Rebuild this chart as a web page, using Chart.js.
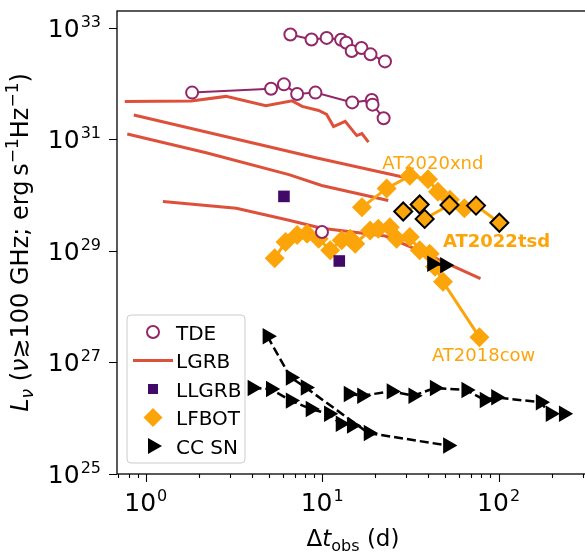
<!DOCTYPE html>
<html>
<head>
<meta charset="utf-8">
<script src="https://cdn.jsdelivr.net/npm/chart.js@4/dist/chart.umd.min.js"></script>
<style>
  html, body { margin: 0; padding: 0; background: #fff; overflow: hidden; }
  #wrap { width: 600px; height: 554px; }
</style>
</head>
<body>
<div id="wrap"><canvas id="myChart" width="600" height="554"></canvas></div>
<script>
// light curves, [days since explosion, L_nu in erg/s/Hz]
var tdeUpper = [[6.6, 7.6e32], [8.7, 6.2e32], [10.6, 6.6e32], [12.8, 6.1e32], [13.7, 5.4e32],
                [14.7, 3.85e32], [16.7, 4.35e32], [18.8, 3.35e32], [22.7, 2.5e32]];
var tdeLower = [[1.83, 6.9e31], [5.13, 8.1e31], [6.07, 9.7e31], [7.21, 6.5e31], [9.16, 6.9e31],
                [14.8, 4.6e31], [19.1, 5.1e31], [19.3, 4.2e31], [22.3, 2.4e31]];
var tdeSingle = [[9.97, 2.18e29]];

var lgrbA = [[0.76, 4.8e31], [1.81, 4.9e31], [2.85, 5.9e31], [4.79, 4.0e31], [6.76, 4.9e31],
             [7.7, 3.9e31], [9.55, 3.3e31], [10.6, 2.8e31], [11.6, 1.7e31], [13.5, 2.1e31],
             [15.7, 1.17e31], [16.8, 1.27e31], [18.3, 8.9e30]];
var lgrbB = [[0.855, 2.73e31], [4.0, 8.7e30], [9.2, 4.7e30], [29.5, 2.07e30]];
var lgrbC = [[0.785, 1.25e31], [2.2, 5.75e30], [6.48, 2.34e30], [9.94, 1.49e30], [23.7, 8.0e29]];
var lgrbD = [[1.25, 7.7e29], [3.26, 5.8e29], [6.48, 3.56e29], [9.94, 2.56e29], [22.8, 1.85e29],
             [33.6, 1.09e29], [79, 3.2e28]];

var llgrb = [[6.07, 9.5e29], [12.5, 6.6e28]];

var at2020xnd = [[16.8, 6.05e29], [23.2, 1.32e30], [31.4, 2.22e30], [39.8, 1.93e30], [45.3, 1.15e30],
                 [53, 8.3e29], [64, 5.8e29]];
var at2022tsd = [[28.8, 5.1e29], [35.7, 6.8e29], [38.1, 3.75e29], [52.7, 6.65e29], [74.5, 6.5e29],
                 [101, 3.2e29]];
var lfbotLower = [[5.38, 7.4e28], [6.2, 1.45e29], [7.21, 1.92e29], [8.21, 2.03e29], [9.55, 1.66e29],
                  [11.1, 1.03e29], [12.9, 1.55e29], [14.4, 1.66e29], [15.4, 1.35e29], [18.7, 2.33e29],
                  [20.8, 2.49e29], [24.2, 2.67e29], [26.4, 1.66e29], [31.4, 1.77e29], [35.7, 1.03e29],
                  [40.7, 8.9e28], [43.6, 5.2e28], [48.4, 2.8e28], [77.9, 2.84e27]];

var ccA = [[4.89, 2.96e27], [6.62, 5.37e26], [8.04, 3.57e26], [18.3, 5.42e25], [51.6, 3.24e25]];
var ccB = [[4.02, 3.48e26], [5.11, 3.34e26], [6.62, 2.07e26], [8.58, 1.47e26], [10.9, 1.2e26],
           [12.7, 7.96e25], [14.7, 7.4e25]];
var ccC = [[14.1, 2.72e26], [16.8, 2.54e26], [24.7, 3.03e26], [32.8, 2.54e26], [43.4, 3.48e26],
           [65.5, 3.2e26], [83.2, 2.13e26], [96.6, 2.37e26], [173, 1.93e26], [197, 1.2e26], [234, 1.2e26]];
var ccD = [[41.9, 5.87e28], [49.6, 5.52e28]];

// axis ticks (powers of ten) and text labels
var xTickExp = [0, 1, 2];
var yTickExp = [25, 27, 29, 31, 33];
var objLabels = [
    { text: 'AT2020xnd', x: 21.9, y: 2.9e30, bold: false },
    { text: 'AT2022tsd', x: 48.4, y: 1.18e29, bold: true },
    { text: 'AT2018cow', x: 41.9, y: 1.06e27, bold: false }
];
var legendNames = ['TDE', 'LGRB', 'LLGRB', 'LFBOT', 'CC SN'];

var TDE = '#932667', LGRB = '#dd513a', LLGRB = '#420a68', LFBOT = '#fca50a';
var FONT = '"DejaVu Sans", sans-serif';

function pts(a) { return a.map(function (p) { return { x: p[0], y: p[1] }; }); }

function tdeSet(d, line) {
    return { data: pts(d), showLine: line, borderColor: TDE, borderWidth: 2,
             pointStyle: 'circle', pointRadius: 6, pointBackgroundColor: '#fff',
             pointBorderColor: TDE, pointBorderWidth: 2, order: 3 };
}
function lgrbSet(d) {
    return { data: pts(d), showLine: true, borderColor: LGRB, borderWidth: 3, pointRadius: 0, order: 7 };
}
function lfbotSet(d, edge, ord) {
    return { data: pts(d), showLine: true, borderColor: LFBOT, borderWidth: 3,
             pointStyle: 'rectRot', pointRadius: edge ? 9 : 10, pointBackgroundColor: LFBOT,
             pointBorderColor: edge ? '#000' : LFBOT, pointBorderWidth: edge ? 2 : 0, order: ord };
}
function ccSet(d) {
    return { data: pts(d), showLine: true, borderColor: '#000', borderWidth: 2.5, borderDash: [9, 4],
             pointStyle: 'triangle', rotation: 90, pointRadius: 9.5, pointBackgroundColor: '#000',
             pointBorderWidth: 0, order: 1 };
}

// "10" with a raised exponent; align 'center' or 'right'
function drawPow(ctx, x, y, exp, align) {
    var base = '10', sup = String(exp);
    ctx.font = '25px ' + FONT;
    var wb = ctx.measureText(base).width;
    ctx.font = '16px ' + FONT;
    var ws = ctx.measureText(sup).width;
    var w = wb + ws + 1;
    var x0 = align === 'center' ? x - w / 2 : x - w;
    ctx.textAlign = 'left';
    ctx.textBaseline = 'alphabetic';
    ctx.font = '25px ' + FONT;
    ctx.fillText(base, x0, y);
    ctx.font = '16px ' + FONT;
    ctx.fillText(sup, x0 + wb + 1, y - 10);
}

// text made of pieces with their own font and vertical shift, centred on x
function drawRuns(ctx, runs, x, y) {
    var w = 0, i;
    for (i = 0; i < runs.length; i++) { ctx.font = runs[i].f; w += ctx.measureText(runs[i].t).width; }
    var cx = x - w / 2;
    ctx.textAlign = 'left';
    ctx.textBaseline = 'alphabetic';
    for (i = 0; i < runs.length; i++) {
        ctx.font = runs[i].f;
        ctx.fillText(runs[i].t, cx, y + (runs[i].dy || 0));
        cx += ctx.measureText(runs[i].t).width;
    }
}

function marker(ctx, kind, x, y) {
    ctx.beginPath();
    if (kind === 'circle') {
        ctx.arc(x, y, 6, 0, Math.PI * 2);
        ctx.fillStyle = '#fff'; ctx.fill();
        ctx.lineWidth = 2; ctx.strokeStyle = TDE; ctx.stroke();
    } else if (kind === 'line') {
        ctx.moveTo(x - 20, y); ctx.lineTo(x + 20, y);
        ctx.lineWidth = 3; ctx.strokeStyle = LGRB; ctx.stroke();
    } else if (kind === 'square') {
        ctx.fillStyle = LLGRB; ctx.fillRect(x - 5, y - 5, 10, 10);
    } else if (kind === 'diamond') {
        ctx.moveTo(x, y - 9.5); ctx.lineTo(x + 9.5, y); ctx.lineTo(x, y + 9.5); ctx.lineTo(x - 9.5, y);
        ctx.closePath(); ctx.fillStyle = LFBOT; ctx.fill();
    } else {
        ctx.moveTo(x + 9, y); ctx.lineTo(x - 5, y - 8); ctx.lineTo(x - 5, y + 8);
        ctx.closePath(); ctx.fillStyle = '#000'; ctx.fill();
    }
}

var frame = {
    id: 'frame',
    afterDraw: function (chart) {
        var ctx = chart.ctx, a = chart.chartArea, xs = chart.scales.x, ys = chart.scales.y;
        ctx.save();
        ctx.strokeStyle = '#000';
        ctx.fillStyle = '#000';

        // spines
        ctx.lineWidth = 1.3;
        ctx.strokeRect(a.left, a.top, a.right - a.left, a.bottom - a.top);

        // x ticks: majors at powers of ten, minors in between
        ctx.lineWidth = 1.1;
        ctx.beginPath();
        [0.1, 1, 10, 100].forEach(function (dec) {
            for (var k = 1; k <= 9; k++) {
                var v = k * dec;
                if (v < xs.min || v > xs.max) continue;
                var px = Math.round(xs.getPixelForValue(v)) + 0.5;
                ctx.moveTo(px, a.bottom);
                ctx.lineTo(px, a.bottom + (k === 1 ? 8 : 4));
            }
        });
        yTickExp.forEach(function (e) {
            var py = Math.round(ys.getPixelForValue(Math.pow(10, e))) + 0.5;
            ctx.moveTo(a.left, py);
            ctx.lineTo(a.left - 8, py);
        });
        ctx.stroke();

        xTickExp.forEach(function (e) {
            drawPow(ctx, xs.getPixelForValue(Math.pow(10, e)), 511, e, 'center');
        });
        yTickExp.forEach(function (e) {
            drawPow(ctx, 101, ys.getPixelForValue(Math.pow(10, e)) + 9, e, 'right');
        });

        // axis titles
        drawRuns(ctx, [
            { t: '\u0394', f: '23px ' + FONT },
            { t: 't', f: 'italic 23px ' + FONT },
            { t: 'obs', f: '16px ' + FONT, dy: 5 },
            { t: ' (d)', f: '23px ' + FONT }
        ], (a.left + a.right) / 2, 546);

        ctx.save();
        ctx.translate(28, (a.top + a.bottom) / 2);
        ctx.rotate(-Math.PI / 2);
        drawRuns(ctx, [
            { t: 'L', f: 'italic 24px ' + FONT },
            { t: '\u03bd', f: 'italic 17px ' + FONT, dy: 5 },
            { t: ' (', f: '24px ' + FONT },
            { t: '\u03bd', f: 'italic 24px ' + FONT },
            { t: '\u2273100 GHz; erg\u2009s', f: '24px ' + FONT },
            { t: '\u22121', f: '17px ' + FONT, dy: -10 },
            { t: 'Hz', f: '24px ' + FONT },
            { t: '\u22121', f: '17px ' + FONT, dy: -10 },
            { t: ')', f: '24px ' + FONT }
        ], 0, 0);
        ctx.restore();

        // object names next to their tracks
        ctx.fillStyle = LFBOT;
        ctx.textAlign = 'left';
        ctx.textBaseline = 'alphabetic';
        objLabels.forEach(function (l) {
            ctx.font = (l.bold ? 'bold ' : '') + '18px ' + FONT;
            ctx.fillText(l.text, xs.getPixelForValue(l.x), ys.getPixelForValue(l.y));
        });

        // legend box
        var bx = 127, by = 315, bw = 118, bh = 148, r = 4;
        ctx.beginPath();
        ctx.moveTo(bx + r, by);
        ctx.arcTo(bx + bw, by, bx + bw, by + bh, r);
        ctx.arcTo(bx + bw, by + bh, bx, by + bh, r);
        ctx.arcTo(bx, by + bh, bx, by, r);
        ctx.arcTo(bx, by, bx + bw, by, r);
        ctx.closePath();
        ctx.fillStyle = 'rgba(255,255,255,0.8)';
        ctx.fill();
        ctx.lineWidth = 1;
        ctx.strokeStyle = '#cccccc';
        ctx.stroke();

        var kinds = ['circle', 'line', 'square', 'diamond', 'triangle'];
        legendNames.forEach(function (name, i) {
            var cy = 332 + i * 28.5;
            marker(ctx, kinds[i], 153, cy);
            ctx.fillStyle = '#000';
            ctx.font = '20px ' + FONT;
            ctx.textAlign = 'left';
            ctx.textBaseline = 'alphabetic';
            ctx.fillText(name, 176, cy + 7.5);
        });
        ctx.restore();
    }
};

var ctx = document.getElementById('myChart').getContext('2d');
var myChart = new Chart(ctx, {
    type: 'scatter',
    data: {
        datasets: [
            lgrbSet(lgrbA), lgrbSet(lgrbB), lgrbSet(lgrbC), lgrbSet(lgrbD),
            lfbotSet(lfbotLower, false, 6),
            lfbotSet(at2020xnd, false, 5),
            lfbotSet(at2022tsd, true, 4),
            tdeSet(tdeUpper, true), tdeSet(tdeLower, true), tdeSet(tdeSingle, false),
            { data: pts(llgrb), showLine: false, pointStyle: 'rect', pointRadius: 8.2,
              pointBackgroundColor: LLGRB, pointBorderWidth: 0, order: 2 },
            ccSet(ccA), ccSet(ccB), ccSet(ccC), ccSet(ccD)
        ]
    },
    options: {
        responsive: false,
        animation: false,
        events: [],
        layout: { padding: { top: 7, right: 8, left: 0, bottom: 0 } },
        plugins: { legend: { display: false }, tooltip: { enabled: false } },
        scales: {
            x: {
                type: 'logarithmic', min: 0.6866, max: 325.6,
                ticks: { display: false }, grid: { display: false }, border: { display: false },
                afterFit: function (s) { s.height = 80; }
            },
            y: {
                type: 'logarithmic', min: 1e25, max: 2.005e33,
                ticks: { display: false }, grid: { display: false }, border: { display: false },
                afterFit: function (s) { s.width = 117; }
            }
        }
    },
    plugins: [frame]
});
</script>
</body>
</html>
